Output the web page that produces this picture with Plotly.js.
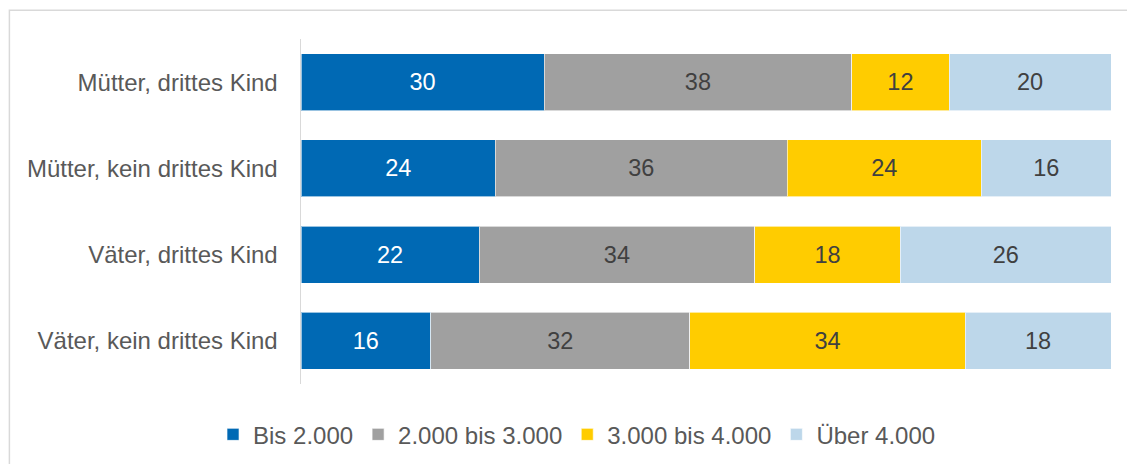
<!DOCTYPE html>
<html>
<head>
<meta charset="utf-8">
<script src="https://cdn.plot.ly/plotly-3.0.1.min.js"></script>
<style>
  html, body { margin: 0; padding: 0; background: #fff; }
  #chart { width: 1127px; height: 464px; }
</style>
</head>
<body>
<div id="chart"></div>
<script>
'use strict';

// Kategorien (von oben nach unten)
var gruppen = ['Mütter, drittes Kind', 'Mütter, kein drittes Kind', 'Väter, drittes Kind', 'Väter, kein drittes Kind'];

// Anteile je Einkommensklasse, in Prozent
var bis2000 = [30, 24, 22, 16];
var bis3000 = [38, 36, 34, 32];
var bis4000 = [12, 24, 18, 34];
var ueber4000 = [20, 16, 26, 18];

var namen = ['Bis 2.000', '2.000 bis 3.000', '3.000 bis 4.000', 'Über 4.000'];
var farben = ['#0069B4', '#A0A0A0', '#FFCC00', '#BDD7EA'];
var textfarben = ['#FFFFFF', '#404040', '#404040', '#404040'];

//baut eine Spur pro Einkommensklasse
function makeTrace(werte, i) {
  return {
    type: 'bar',
    orientation: 'h',
    name: namen[i],
    y: gruppen,
    x: werte,
    text: werte.map(String),
    textposition: 'inside',
    insidetextanchor: 'middle',
    constraintext: 'none',
    textfont: { family: 'Liberation Sans, Arial, sans-serif', size: 23.5, color: textfarben[i] },
    marker: { color: farben[i], line: { color: 'rgba(255,255,255,0.6)', width: 1 } },
    hoverinfo: 'name+x'
  };
}

var data = [bis2000, bis3000, bis4000, ueber4000].map(makeTrace);

var layout = {
  width: 1127,
  height: 464,
  barmode: 'stack',
  bargap: 0.34,
  paper_bgcolor: '#fff',
  plot_bgcolor: '#fff',
  margin: { l: 301, r: 16, t: 39, b: 80 },
  font: { family: 'Liberation Sans, Arial, sans-serif', size: 24, color: '#595959' },
  xaxis: {
    range: [0, 100],
    showticklabels: false,
    showgrid: false,
    zeroline: false,
    showline: false,
    fixedrange: true
  },
  yaxis: {
    autorange: 'reversed',
    showline: true,
    linecolor: '#D9D9D9',
    linewidth: 1.5,
    showgrid: false,
    ticks: '',
    ticklabelstandoff: 17,
    tickfont: { size: 24, color: '#595959' }
  },
  showlegend: true,
  legend: {
    orientation: 'h',
    xref: 'container',
    yref: 'container',
    x: 0.512,
    xanchor: 'center',
    y: 0.063,
    yanchor: 'middle',
    itemgap: 12,
    font: { size: 24, color: '#595959' },
    traceorder: 'normal',
    itemclick: false
  },
  shapes: [{
    type: 'rect',
    xref: 'paper',
    yref: 'paper',
    x0: -0.36,
    x1: 1.2,
    y0: -0.5,
    y1: 1.083,
    line: { color: '#D9D9D9', width: 1.5 },
    fillcolor: 'rgba(0,0,0,0)',
    layer: 'below'
  }]
};

Plotly.newPlot('chart', data, layout, { displayModeBar: false, staticPlot: true });
</script>
</body>
</html>
